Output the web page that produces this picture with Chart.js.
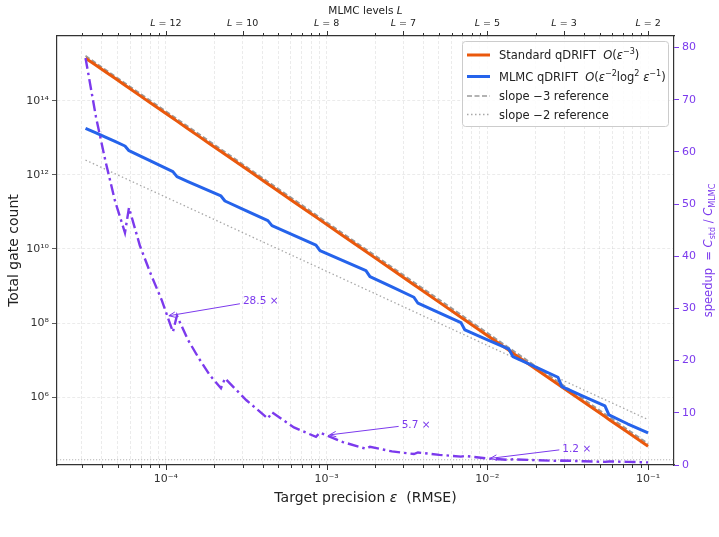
<!DOCTYPE html>
<html>
<head>
<meta charset="utf-8">
<title>qDRIFT gate count vs target precision</title>
<script src="https://cdn.jsdelivr.net/npm/chart.js@4.4.1/dist/chart.umd.min.js"></script>
<style>
  body { margin: 0; background: #fff; }
  canvas { display: block; }
</style>
</head>
<body>
<canvas id="gate-chart" width="719" height="537"></canvas>
<script>
// target precision eps (RMSE)
const eps = [3.16e-5, 3.67e-5, 4.20e-5, 4.82e-5, 5.56e-5,
  5.89e-5, 6.89e-5, 8.07e-5, 9.44e-5, 1.105e-4,
  1.171e-4, 1.370e-4, 1.605e-4, 1.878e-4, 2.20e-4,
  2.33e-4, 3.17e-4, 4.31e-4, 4.57e-4, 6.26e-4, 8.58e-4, 9.09e-4, 1.263e-3, 1.756e-3, 1.86e-3,
  2.55e-3, 3.49e-3, 3.70e-3, 5.03e-3, 6.85e-3, 7.25e-3, 9.94e-3, 1.363e-2, 1.443e-2, 1.99e-2,
  2.75e-2, 2.91e-2, 3.96e-2, 5.39e-2, 5.71e-2, 7.44e-2, 0.1];

const stdGates = [1.39e15, 9.07e14, 6.03e14, 4.01e14, 2.61e14,
  2.20e14, 1.37e14, 8.57e13, 5.35e13, 3.34e13,
  2.81e13, 1.75e13, 1.09e13, 6.83e12, 4.26e12,
  3.59e12, 1.43e12, 5.68e11, 4.78e11, 1.86e11, 7.25e10, 6.10e10, 2.28e10, 8.50e9, 7.15e9,
  2.79e9, 1.08e9, 9.14e8, 3.63e8, 1.45e8, 1.22e8, 4.74e7, 1.85e7, 1.55e7, 5.92e6,
  2.26e6, 1.90e6, 7.56e5, 3.01e5, 2.53e5, 1.15e5, 4.8e4];

const mlmcGates = [1.80e13, 1.36e13, 1.04e13, 7.96e12, 6.00e12,
  4.48e12, 3.24e12, 2.34e12, 1.69e12, 1.22e12,
  8.92e11, 6.61e11, 4.90e11, 3.63e11, 2.69e11,
  1.97e11, 1.07e11, 5.81e10, 4.26e10, 2.34e10, 1.28e10, 9.01e9, 4.84e9, 2.60e9, 1.79e9,
  9.46e8, 4.99e8, 3.44e8, 1.88e8, 1.03e8, 6.55e7, 3.60e7, 1.98e7, 1.25e7, 6.58e6,
  3.47e6, 1.94e6, 1.06e6, 5.84e5, 3.34e5, 1.93e5, 1.1e5];

const speedup = [78.0, 66.7, 58.3, 50.6, 44.5,
  49.3, 42.0, 36.5, 31.5, 25.5,
  28.6, 24.0, 20.4, 17.2, 14.7,
  16.6, 12.4, 8.9, 10.1, 7.2, 5.4, 6.2, 4.4, 3.1, 3.5,
  2.6, 2.1, 2.4, 1.95, 1.6, 1.75, 1.25, 0.98, 1.1, 0.92,
  0.78, 0.86, 0.72, 0.6, 0.68, 0.6, 0.5];

const refEps = [3.16e-5, 0.1];
const slope3Ref = [1.62e15, 5.6e4];
const slope2Ref = [2.5e12, 2.5e5];

// top axis: MLMC levels
const levelEps = [1e-4, 3e-4, 1e-3, 3e-3, 1e-2, 3e-2, 1e-1];
const levelL = [12, 10, 8, 7, 5, 3, 2];

const annotEps = [1e-4, 1e-3, 1e-2];
const annotSpeedup = [28.5, 5.7, 1.2];

const gateTicks = [1e6, 1e8, 1e10, 1e12, 1e14];

const X_MIN = 2.1e-5, X_MAX = 0.145;
const ORANGE = '#ea580c', BLUE = '#2563eb', PURPLE = '#7c3aed';
const FONT = '"DejaVu Sans", sans-serif';

const epsTicks = [];
for (let d = -5; d <= -1; d++) {
  for (let m = 1; m <= 9; m++) {
    const v = m * Math.pow(10, d);
    if (v >= X_MIN && v <= X_MAX) epsTicks.push(v);
  }
}
const isDecade = v => Math.abs(Math.log10(v) - Math.round(Math.log10(v))) < 1e-6;
const isLevel = v => levelEps.some(e => Math.abs(Math.log10(e / v)) < 1e-6);

const SUP = {'0':'⁰','1':'¹','2':'²','3':'³','4':'⁴','5':'⁵','6':'⁶','7':'⁷','8':'⁸','9':'⁹','-':'⁻'};
function pow10Label(v) {
  const e = Math.round(Math.log10(v));
  return '10' + String(e).split('').map(c => SUP[c]).join('');
}

// text with italic / super / subscript pieces
function drawRich(ctx, parts, x, y, size, align) {
  const fontFor = st => {
    const s = (st === 'sup' || st === 'sub') ? size * 0.7 : size;
    return (st === 'i' ? 'italic ' : '') + s + 'px ' + FONT;
  };
  let w = 0;
  parts.forEach(([t, st]) => { ctx.font = fontFor(st); w += ctx.measureText(t).width; });
  let cx = align === 'center' ? x - w / 2 : (align === 'right' ? x - w : x);
  const base = y + size * 0.36;
  ctx.textBaseline = 'alphabetic';
  ctx.textAlign = 'left';
  parts.forEach(([t, st]) => {
    ctx.font = fontFor(st);
    let by = base;
    if (st === 'sup') by = base - size * 0.42;
    if (st === 'sub') by = base + size * 0.22;
    ctx.fillText(t, cx, by);
    cx += ctx.measureText(t).width;
  });
  return w;
}

const legendItems = [
  {color: ORANGE, width: 3, dash: [], parts: [['Standard qDRIFT  ', ''], ['O', 'i'], ['(', ''], ['ε', 'i'], ['−3', 'sup'], [')', '']]},
  {color: BLUE, width: 3, dash: [], parts: [['MLMC qDRIFT  ', ''], ['O', 'i'], ['(', ''], ['ε', 'i'], ['−2', 'sup'], ['log', ''], ['2', 'sup'], [' ', ''], ['ε', 'i'], ['−1', 'sup'], [')', '']]},
  {color: '#9a9a9a', width: 1.5, dash: [5, 2.5], parts: [['slope −3 reference', '']]},
  {color: '#a8a8a8', width: 1.5, dash: [1.5, 2.5], parts: [['slope −2 reference', '']]}
];

const decor = {
  id: 'decor',
  afterDraw(chart) {
    const ctx = chart.ctx;
    const area = chart.chartArea;
    const xs = chart.scales.x, ys = chart.scales.y1;

    // x tick marks, top and bottom
    ctx.save();
    ctx.strokeStyle = '#333';
    ctx.lineWidth = 1;
    epsTicks.forEach(v => {
      const px = Math.round(xs.getPixelForValue(v)) + 0.5;
      let len = isDecade(v) ? 5 : 3;
      ctx.beginPath(); ctx.moveTo(px, area.bottom); ctx.lineTo(px, area.bottom + len); ctx.stroke();
      len = isLevel(v) ? 5 : 3;
      ctx.beginPath(); ctx.moveTo(px, area.top); ctx.lineTo(px, area.top - len); ctx.stroke();
    });
    ctx.restore();

    // titles
    ctx.save();
    ctx.fillStyle = '#222';
    levelEps.forEach((e, i) => {
      drawRich(ctx, [['L', 'i'], [' = ' + levelL[i], '']], chart.scales.x2.getPixelForValue(e), 23, 9.5, 'center');
    });
    drawRich(ctx, [['MLMC levels ', ''], ['L', 'i']], (area.left + area.right) / 2, 10, 10.5, 'center');
    drawRich(ctx, [['Target precision ', ''], ['ε', 'i'], ['  (RMSE)', '']], (area.left + area.right) / 2, 497, 14, 'center');
    ctx.translate(13, (area.top + area.bottom) / 2);
    ctx.rotate(-Math.PI / 2);
    drawRich(ctx, [['Total gate count', '']], 0, 0, 14, 'center');
    ctx.restore();

    ctx.save();
    ctx.fillStyle = PURPLE;
    ctx.translate(708, (area.top + area.bottom) / 2);
    ctx.rotate(-Math.PI / 2);
    drawRich(ctx, [['speedup  = ', ''], ['C', 'i'], ['std', 'sub'], [' / ', ''], ['C', 'i'], ['MLMC', 'sub']], 0, 0, 11.5, 'center');
    ctx.restore();

    // annotations
    const offsets = [[77, -16], [75, -11], [75, -11]];
    ctx.save();
    ctx.fillStyle = PURPLE;
    ctx.strokeStyle = PURPLE;
    ctx.lineWidth = 1;
    annotEps.forEach((e, i) => {
      const px = xs.getPixelForValue(e), py = ys.getPixelForValue(annotSpeedup[i]);
      const tx = px + offsets[i][0], ty = py + offsets[i][1];
      const w = drawRich(ctx, [[annotSpeedup[i].toFixed(1) + ' ×', '']], tx, ty, 10.5, 'left');
      const cx = tx + w / 2;
      const ang = Math.atan2(py - ty, px - cx);
      const sx = tx - 3, sy = ty + (sx - cx) * Math.tan(ang);
      const ex = px - 3 * Math.cos(ang), ey = py - 3 * Math.sin(ang);
      ctx.beginPath(); ctx.moveTo(sx, sy); ctx.lineTo(ex, ey); ctx.stroke();
      ctx.beginPath();
      ctx.moveTo(ex - 7 * Math.cos(ang - 0.4), ey - 7 * Math.sin(ang - 0.4));
      ctx.lineTo(ex, ey);
      ctx.lineTo(ex - 7 * Math.cos(ang + 0.4), ey - 7 * Math.sin(ang + 0.4));
      ctx.stroke();
    });
    ctx.restore();

    // legend
    const bx = area.right - 212, by = area.top + 5, bw = 206, bh = 85;
    ctx.save();
    ctx.fillStyle = 'rgba(255,255,255,0.85)';
    ctx.strokeStyle = '#cccccc';
    ctx.lineWidth = 1;
    ctx.beginPath();
    ctx.roundRect(bx + 0.5, by + 0.5, bw, bh, 3);
    ctx.fill(); ctx.stroke();
    const rows = [14, 35.5, 55, 73.5];
    legendItems.forEach((it, i) => {
      const ry = by + rows[i];
      ctx.strokeStyle = it.color;
      ctx.lineWidth = it.width;
      ctx.setLineDash(it.dash);
      ctx.beginPath(); ctx.moveTo(bx + 5, ry); ctx.lineTo(bx + 28, ry); ctx.stroke();
      ctx.setLineDash([]);
      ctx.fillStyle = '#222';
      drawRich(ctx, it.parts, bx + 37, ry, 11.5, 'left');
    });
    ctx.restore();
  }
};

const pts = vals => eps.map((e, i) => ({x: e, y: vals[i]}));
const refPts = vals => refEps.map((e, i) => ({x: e, y: vals[i]}));

const gridDash = [3, 2];
const ctx = document.getElementById('gate-chart').getContext('2d');
const chart = new Chart(ctx, {
  type: 'line',
  data: {
    datasets: [
      {label: 'speedup', data: pts(speedup), yAxisID: 'y1', borderColor: PURPLE, borderWidth: 2.4,
        borderDash: [11, 4, 2.5, 4], pointRadius: 0, order: 0},
      {label: 'MLMC qDRIFT', data: pts(mlmcGates), yAxisID: 'y', borderColor: BLUE, borderWidth: 3,
        pointRadius: 0, borderJoinStyle: 'round', order: 1},
      {label: 'Standard qDRIFT', data: pts(stdGates), yAxisID: 'y', borderColor: ORANGE, borderWidth: 3,
        pointRadius: 0, order: 2},
      {label: 'slope -3 reference', data: refPts(slope3Ref), yAxisID: 'y', borderColor: '#999999', borderWidth: 1.8,
        borderDash: [5, 2.5], pointRadius: 0, order: 3},
      {label: 'slope -2 reference', data: refPts(slope2Ref), yAxisID: 'y', borderColor: '#a8a8a8', borderWidth: 1.3,
        borderDash: [1.5, 2.5], pointRadius: 0, order: 4},
      {label: 'speedup = 1', data: [{x: X_MIN, y: 1}, {x: X_MAX, y: 1}], yAxisID: 'y1', borderColor: '#b5b5b5',
        borderWidth: 1, borderDash: [1.2, 1.8], pointRadius: 0, order: 5}
    ]
  },
  options: {
    responsive: false,
    devicePixelRatio: 1,
    animation: false,
    layout: {padding: 0},
    plugins: {legend: {display: false}, tooltip: {enabled: false}},
    scales: {
      x: {
        type: 'logarithmic', position: 'bottom', min: X_MIN, max: X_MAX, bounds: 'data',
        afterBuildTicks: s => { s.ticks = epsTicks.map(v => ({value: v})); },
        afterFit: s => { s.height = 72; },
        ticks: {autoSkip: false, maxRotation: 0, padding: 8, color: '#333', font: {family: FONT, size: 11},
          callback: v => isDecade(v) ? pow10Label(v) : ''},
        grid: {color: 'rgba(170,170,170,0.3)', lineWidth: 0.8, drawTicks: false},
        border: {color: '#333', width: 1.2, dash: gridDash}
      },
      x2: {
        type: 'logarithmic', position: 'top', min: X_MIN, max: X_MAX, bounds: 'data',
        afterFit: s => { s.height = 36; },
        ticks: {display: false},
        grid: {drawOnChartArea: false, drawTicks: false},
        border: {color: '#333', width: 1.2}
      },
      y: {
        type: 'logarithmic', position: 'left', min: 1.49e4, max: 5.56e15, bounds: 'data',
        afterBuildTicks: s => { s.ticks = gateTicks.map(v => ({value: v})); },
        afterFit: s => { s.width = 57; },
        ticks: {autoSkip: false, padding: 3, color: '#333', font: {family: FONT, size: 11},
          callback: v => pow10Label(v)},
        grid: {color: 'rgba(170,170,170,0.3)', lineWidth: 0.8, tickLength: 5, tickColor: '#333'},
        border: {color: '#333', width: 1.2, dash: gridDash}
      },
      y1: {
        type: 'linear', position: 'right', min: 0, max: 82.2, bounds: 'data',
        afterFit: s => { s.width = 45; },
        ticks: {stepSize: 10, includeBounds: false, padding: 3, color: PURPLE, font: {family: FONT, size: 11}},
        grid: {drawOnChartArea: false, tickLength: 5, tickColor: PURPLE},
        border: {color: '#333', width: 1.2}
      }
    }
  },
  plugins: [decor]
});
</script>
</body>
</html>
